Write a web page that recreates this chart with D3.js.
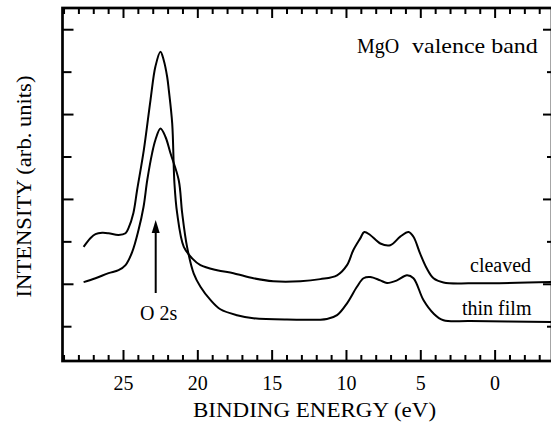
<!DOCTYPE html>
<html>
<head>
<meta charset="utf-8">
<script src="https://cdn.jsdelivr.net/npm/d3@7"></script>
<style>
  body { margin: 0; background: #fff; }
  svg, svg text { font-family: "Liberation Serif", "Times New Roman", serif; }
</style>
</head>
<body>
<div id="d3-container"></div>
<script>
/**
 * CONSTANTS AND GLOBALS
 * */
const width = 551,
  height = 428,
  margin = { top: 8, bottom: 67, left: 62.5, right: -1 };

const serif = '"Liberation Serif"';

// binding energy (eV)
const cleavedE = [27.65, 27.18, 26.85, 26.4, 25.97, 25.3, 24.83, 24.63, 24.3, 24.05, 23.6, 23.15, 22.82,
  22.48, 22.26, 22.03, 21.92, 21.69, 21.54, 21.36, 20.91, 20.35, 19.79, 18.67, 17.57, 16.23, 14.89,
  13.07, 11.73, 10.6, 9.93, 9.51, 9.04, 8.77, 8.37, 7.69, 7.02, 6.35, 5.79, 5.46, 5.01, 4.56, 4.11,
  3.44, 1.65, -3.8];
const cleavedI = [1.87, 2.08, 2.17, 2.2, 2.19, 2.15, 2.19, 2.31, 2.67, 3.21, 4.15, 5.33, 6.12,
  6.47, 6.27, 5.88, 5.57, 4.78, 3.37, 2.67, 1.87, 1.6, 1.44, 1.32, 1.25, 1.13, 1.06,
  1.06, 1.11, 1.2, 1.44, 1.79, 2.07, 2.22, 2.15, 1.95, 1.91, 2.11, 2.22, 2.11, 1.71, 1.36, 1.13,
  1.03, 1.01, 1.04];

const filmE = [27.65, 26.85, 25.97, 25.3, 24.83, 24.38, 23.96, 23.62, 23.37, 23.04, 22.82, 22.48,
  22.14, 21.8, 21.25, 21.02, 20.69, 20.24, 19.79, 19.12, 18.45, 17.33, 16.23, 13.97, 11.28, 10.6,
  9.93, 9.26, 8.82, 8.37, 7.69, 7.24, 6.57, 5.9, 5.46, 4.78, 4.11, 3.44, 1.65, -3.8];
const filmI = [1.04, 1.13, 1.25, 1.32, 1.44, 1.75, 2.26, 2.81, 3.44, 4.08, 4.39, 4.66,
  4.46, 4.07, 3.44, 2.67, 1.87, 1.24, 0.93, 0.62, 0.4, 0.26, 0.19, 0.16, 0.17, 0.26,
  0.54, 0.93, 1.13, 1.16, 1.08, 1.02, 1.08, 1.2, 1.13, 0.61, 0.3, 0.14, 0.12, 0.1];

const xMajor = [25, 20, 15, 10, 5, 0];
const xMinor = d3.range(-3, 30);
const yMajor = [1, 3, 5, 7];
const yMinor = [0, 2, 4, 6];

const arrowE = 22.8;

let svg;

/**
 * INIT
 * */
function init() {
  svg = d3.select("#d3-container")
    .append("svg")
    .attr("width", width)
    .attr("height", height)
    .attr("font-family", "Liberation Serif");

  const x = d3.scaleLinear()
    .domain([29.07, -3.86])
    .range([margin.left, width - margin.right]);

  const y = d3.scaleLinear()
    .domain([-0.82, 7.5])
    .range([height - margin.bottom, margin.top]);

  const x0 = x.range()[0], x1 = x.range()[1];
  const y0 = y.range()[0], y1 = y.range()[1];

  // ticks (all inward), no d3 font defaults left on the groups
  const tickAxis = (gen, tr) => {
    const g = svg.append("g").attr("transform", tr).call(gen);
    g.attr("font-family", null).attr("font-size", null);
    g.select(".domain").remove();
    g.selectAll("line").attr("stroke", "#000").attr("stroke-width", 2);
    return g;
  };

  tickAxis(d3.axisBottom(x).tickValues(xMinor.filter(d => d % 5 !== 0)).tickSize(-6).tickFormat(""),
    `translate(0,${y0})`);
  const bottom = tickAxis(d3.axisBottom(x).tickValues(xMajor).tickSize(-11).tickFormat(d3.format("d")),
    `translate(0,${y0})`);
  bottom.selectAll("text")
    .attr("y", 29).attr("dy", 0)
    .attr("fill", "#000")
    .style("font-family", serif)
    .style("font-size", "20px");

  tickAxis(d3.axisTop(x).tickValues(xMinor.filter(d => d % 5 !== 0)).tickSize(-6).tickFormat(""),
    `translate(0,${y1})`);
  tickAxis(d3.axisTop(x).tickValues(xMajor).tickSize(-10).tickFormat(""),
    `translate(0,${y1})`);

  tickAxis(d3.axisLeft(y).tickValues(yMajor).tickSize(-11).tickFormat(""), `translate(${x0},0)`);
  tickAxis(d3.axisLeft(y).tickValues(yMinor).tickSize(-9).tickFormat(""), `translate(${x0},0)`);
  tickAxis(d3.axisRight(y).tickValues(yMajor).tickSize(-9).tickFormat(""), `translate(${x1},0)`);
  tickAxis(d3.axisRight(y).tickValues(yMinor).tickSize(-5).tickFormat(""), `translate(${x1},0)`);

  // frame
  svg.append("rect")
    .attr("x", x0).attr("y", y1)
    .attr("width", x1 - x0).attr("height", y0 - y1)
    .attr("fill", "none")
    .attr("stroke", "#000")
    .attr("stroke-width", 2.7);

  // spectra
  const line = d3.line()
    .x(d => x(d[0]))
    .y(d => y(d[1]))
    .curve(d3.curveCatmullRom.alpha(0.5));

  [[cleavedE, cleavedI], [filmE, filmI]].forEach(([es, is]) => {
    svg.append("path")
      .datum(es.map((e, i) => [e, is[i]]))
      .attr("d", line)
      .attr("fill", "none")
      .attr("stroke", "#000")
      .attr("stroke-width", 2)
      .attr("stroke-linejoin", "round");
  });

  // O 2s arrow
  svg.append("line")
    .attr("x1", x(arrowE)).attr("x2", x(arrowE))
    .attr("y1", 293).attr("y2", 230)
    .attr("stroke", "#000").attr("stroke-width", 2);
  svg.append("path")
    .attr("d", `M${x(arrowE)},220 L${x(arrowE) - 4},233 L${x(arrowE) + 4},233 Z`)
    .attr("fill", "#000");

  // texts: stretched with a transform, not textLength
  const label = (t, tr, anchor) => svg.append("text")
    .attr("transform", tr)
    .attr("text-anchor", anchor || "start")
    .attr("font-family", "Liberation Serif")
    .style("font-family", serif)
    .style("font-size", "20px")
    .text(t);

  label("O 2s", "translate(140,320)");
  label("cleaved", "translate(470,272)");
  label("thin film", "translate(462,315)");
  label("MgO", "translate(357,53)");
  label("valence band", "translate(412,53) scale(1.2,1)");
  label("BINDING ENERGY (eV)", "translate(193,417) scale(1.15,1)");
  label("INTENSITY (arb. units)", `translate(31,${(75 + 298) / 2}) rotate(-90) scale(1.13,1)`, "middle");
}

init();
</script>
</body>
</html>
